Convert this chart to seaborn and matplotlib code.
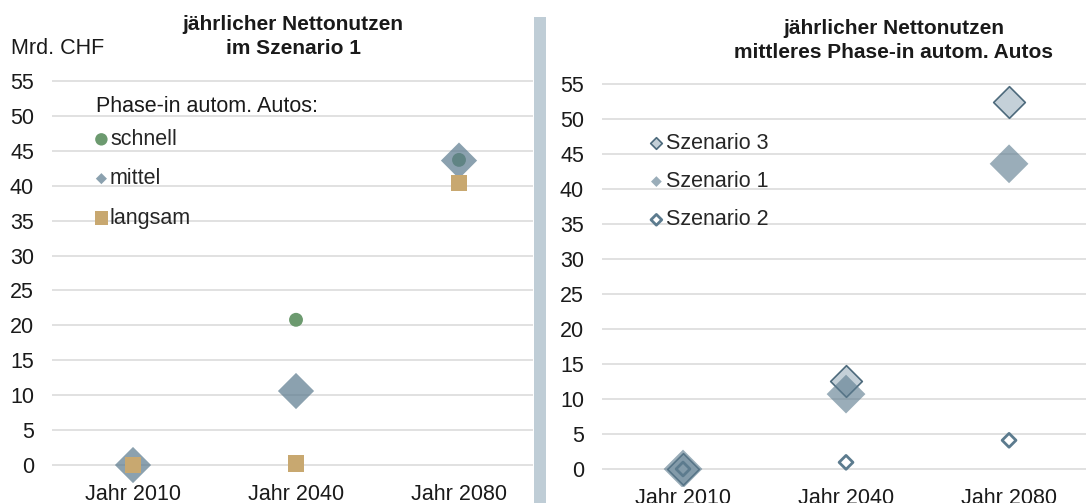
import numpy as np
import pandas as pd
import matplotlib
matplotlib.use("Agg")
import matplotlib.pyplot as plt
from matplotlib.patches import Rectangle
import seaborn as sns

# values (Mrd. CHF)
categories = ["Jahr 2010", "Jahr 2040", "Jahr 2080"]
schnell = [0.0, 20.8, 43.7]
mittel = [0.0, 10.6, 43.6]
langsam = [0.0, 0.25, 40.4]
szenario3 = [0.0, 12.6, 52.4]
szenario1 = [0.0, 10.7, 43.6]
szenario2 = [0.0, 0.95, 4.1]
yticks = list(range(0, 60, 5))

sns.set_theme(style="white")
plt.rcParams['font.family'] = ['Liberation Sans', 'DejaVu Sans']

W, H = 1086, 503
fig = plt.figure(figsize=(W / 100, H / 100), dpi=100)

def px_axes(x0, x1, ytop, ybot):
    return fig.add_axes([x0 / W, 1 - ybot / H, (x1 - x0) / W, (ybot - ytop) / H])

ax1 = px_axes(52, 533, 74, 482.5)
ax2 = px_axes(602, 1086, 77, 486.5)

df = pd.DataFrame({"cat": categories, "schnell": schnell, "mittel": mittel,
                   "langsam": langsam, "sz3": szenario3, "sz1": szenario1, "sz2": szenario2})
df["x"] = np.arange(len(categories))

base = "#5C7B8E"

# left panel
sns.scatterplot(data=df, x="x", y="schnell", ax=ax1, marker="o", s=100, color="#6C9A6F",
                edgecolor="none", linewidth=0, zorder=3, label="schnell")
sns.scatterplot(data=df, x="x", y="mittel", ax=ax1, marker="D", s=340, color=base, alpha=0.71,
                edgecolor="none", linewidth=0, zorder=4, label="mittel")
sns.scatterplot(data=df, x="x", y="langsam", ax=ax1, marker="s", s=140, color="#C8A870",
                edgecolor="none", linewidth=0, zorder=5, label="langsam")

# right panel
sns.scatterplot(data=df, x="x", y="sz3", ax=ax2, marker="D", s=260, color="#C4D0D8",
                edgecolor="#4D6A7C", linewidth=1.2, zorder=3, label="Szenario 3")
sns.scatterplot(data=df, x="x", y="sz1", ax=ax2, marker="D", s=390, color=base, alpha=0.62,
                edgecolor="none", linewidth=0, zorder=4, label="Szenario 1")
sns.scatterplot(data=df, x="x", y="sz2", ax=ax2, marker="D", s=50, facecolor="none",
                edgecolor=base, linewidth=2.0, zorder=5, label="Szenario 2")

for ax, xr in ((ax1, (-0.497, 2.454)), (ax2, (-0.497, 2.472))):
    ax.set_xlim(*xr)
    ax.set_ylim(-2.5, 56)
    ax.set_yticks(yticks)
    ax.set_xticks(range(len(categories)))
    ax.set_xticklabels(categories)
    ax.set_xlabel("")
    ax.set_ylabel("")
    ax.grid(axis="y", color="#D9D9D9", linewidth=1.1)
    ax.grid(axis="x", visible=False)
    ax.set_axisbelow(True)
    for sp in ax.spines.values():
        sp.set_visible(False)
    ax.tick_params(axis="y", length=0, pad=13, labelsize=15.5, labelcolor="#1a1a1a")
    ax.tick_params(axis="x", length=0, pad=1, labelsize=15.5, labelcolor="#1a1a1a")
    ax.patch.set_alpha(0)

# legends
fig.text(96 / W, 1 - 106 / H, "Phase-in autom. Autos:", ha="left", va="center",
         fontsize=15.5, color="#1a1a1a")
leg1 = ax1.legend(loc="upper left",
                  bbox_to_anchor=(96 / W, 1 - 129 / H), bbox_transform=fig.transFigure,
                  frameon=False, fontsize=15.5, handlelength=0.5, handletextpad=0.15,
                  labelspacing=0.85, borderpad=0, borderaxespad=0)
for h, sz in zip(leg1.legend_handles, [80, 32, 90]):
    h.set_sizes([sz])

leg2 = ax2.legend(loc="upper left",
                  bbox_to_anchor=(651 / W, 1 - 133 / H), bbox_transform=fig.transFigure,
                  frameon=False, fontsize=15.5, handlelength=0.5, handletextpad=0.2,
                  labelspacing=0.8, borderpad=0, borderaxespad=0)
for h, sz in zip(leg2.legend_handles, [35, 30, 30]):
    h.set_sizes([sz])

# titles and unit label
fig.text(293 / W, 1 - 25 / H, "jährlicher Nettonutzen", ha="center", va="center",
         fontsize=15, fontweight="bold", color="#1a1a1a")
fig.text(293 / W, 1 - 48 / H, "im Szenario 1", ha="center", va="center",
         fontsize=15, fontweight="bold", color="#1a1a1a")
fig.text(894 / W, 1 - 29 / H, "jährlicher Nettonutzen", ha="center", va="center",
         fontsize=15, fontweight="bold", color="#1a1a1a")
fig.text(894 / W, 1 - 53 / H, "mittleres Phase-in autom. Autos", ha="center", va="center",
         fontsize=15, fontweight="bold", color="#1a1a1a")
fig.text(11 / W, 1 - 48 / H, "Mrd. CHF", ha="left", va="center", fontsize=15.5, color="#1a1a1a")

# separator bar between panels
fig.patches.append(Rectangle((534 / W, 0), 12 / W, 1 - 17 / H, transform=fig.transFigure,
                             facecolor="#BFCDD6", edgecolor="none", zorder=0))

fig.savefig("out.png", dpi=100)
